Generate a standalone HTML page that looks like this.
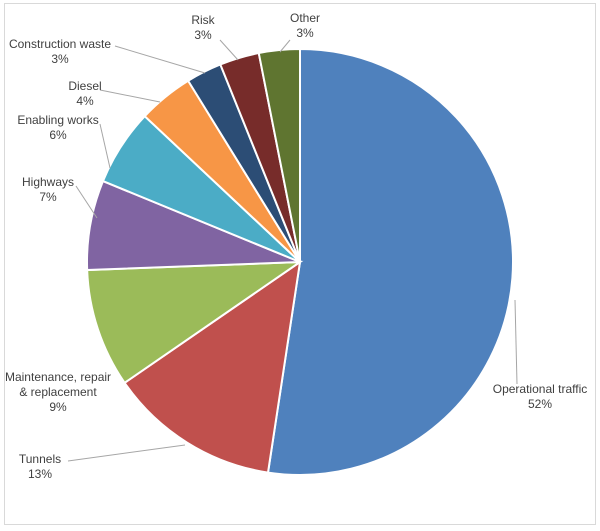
<!DOCTYPE html>
<html><head><meta charset="utf-8">
<style>
html,body{margin:0;padding:0;background:#fff;}
svg{display:block;font-family:"Liberation Sans",sans-serif;}
</style></head>
<body>
<svg id="chart" width="600" height="531" viewBox="0 0 600 531">
<rect x="4.5" y="3.5" width="591" height="521" fill="#fff" stroke="#d9d9d9"/>
<g id="slices"></g>
<g id="leaders"></g>
<g id="labels"></g>
</svg>
<script>
const categories = ["Operational traffic","Tunnels","Maintenance, repair & replacement","Highways","Enabling works","Diesel","Construction waste","Risk","Other"];
const values = [52.4, 13.0, 9.0, 6.8, 5.8, 4.2, 2.7, 3.0, 3.1];
const percentLabels = ["52%","13%","9%","7%","6%","4%","3%","3%","3%"];
const colors = ["#4F81BD","#C0504D","#9BBB59","#8064A2","#4BACC6","#F79646","#2C4D75","#772C2A","#5F7530"];
const labelLines = [["Operational traffic"],["Tunnels"],["Maintenance, repair","& replacement"],["Highways"],["Enabling works"],["Diesel"],["Construction waste"],["Risk"],["Other"]];
const labelPos = [[540,393],[40,463],[58,381],[48,186],[58,124],[85,90],[60,48],[203,24],[305,22]];
const leaderStart = [[515,300],[185,445],null,[97,218],[110,168],[160,102],[205,73],[238,60],[280,52]];
const leaderEnd = [[517,384],[68,461],null,[76,186],[100,124],[100,90],[115,46],[220,40],[290,40]];
const NS="http://www.w3.org/2000/svg";
const cx=300, cy=262, r=213;
const total = values.reduce((a,b)=>a+b,0);
function pt(a,rad){return [cx+rad*Math.sin(a), cy-rad*Math.cos(a)];}
const gS=document.getElementById('slices'), gL=document.getElementById('leaders'), gT=document.getElementById('labels');
let acc=0;
values.forEach((v,i)=>{
  const a0=acc/total*2*Math.PI; acc+=v; const a1=acc/total*2*Math.PI;
  const p0=pt(a0,r), p1=pt(a1,r);
  const large=(a1-a0)>Math.PI?1:0;
  const p=document.createElementNS(NS,'path');
  p.setAttribute('d',`M${cx},${cy} L${p0[0]},${p0[1]} A${r},${r} 0 ${large} 1 ${p1[0]},${p1[1]} Z`);
  p.setAttribute('fill',colors[i]); p.setAttribute('stroke','#fff'); p.setAttribute('stroke-width','2');
  
  
  gS.appendChild(p);
  if(leaderEnd[i]){
    const s=leaderStart[i], le=leaderEnd[i];
    const l=document.createElementNS(NS,'polyline');
    l.setAttribute('points',`${s[0]},${s[1]} ${le[0]},${le[1]}`);
    l.setAttribute('fill','none'); l.setAttribute('stroke','#a6a6a6'); l.setAttribute('stroke-width','1');
    
    
    gL.appendChild(l);
  }
  const t=document.createElementNS(NS,'text');
  t.setAttribute('x',labelPos[i][0]); t.setAttribute('y',labelPos[i][1]);
  t.setAttribute('text-anchor','middle'); t.setAttribute('font-size','12'); t.setAttribute('fill','#404040');
  
  
  const lines=labelLines[i].concat([percentLabels[i]]);
  lines.forEach((s,k)=>{const ts=document.createElementNS(NS,'tspan');ts.setAttribute('x',labelPos[i][0]);ts.setAttribute('dy',k===0?'0':'15');ts.textContent=s;t.appendChild(ts);});
  gT.appendChild(t);
});
</script>
</body></html>
